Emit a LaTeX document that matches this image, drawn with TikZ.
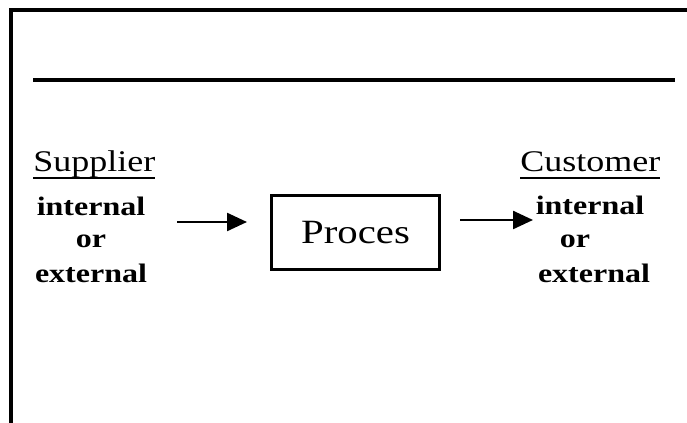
\documentclass[tikz,border=0pt]{standalone}
\usepackage{fontspec}
\setmainfont{Liberation Serif}[FakeStretch=1.2]
\usetikzlibrary{arrows.meta}
\newcommand\ulword[1]{\setbox0\hbox{#1}\rlap{\rule[-5pt]{\wd0}{1.4pt}}\box0}
\tikzset{
  rule/.style={line width=3pt},
  head/.style={font=\fontsize{22.5}{27}\selectfont, inner sep=0pt, anchor=base west},
  sub/.style={font=\fontsize{20}{24}\selectfont\bfseries, inner sep=0pt, anchor=base},
  arr/.style={line width=1.8pt, -{Triangle[length=15pt,width=13.5pt]}},
  procbox/.style={draw, line width=2.2pt, minimum width=126pt, minimum height=56pt, inner sep=0pt,
                  font=\fontsize{25.5}{30}\selectfont}
}
\begin{document}
\begin{tikzpicture}[x=0.75pt,y=-0.75pt]
\useasboundingbox (0,0) rectangle (687,423);
\coordinate (bl) at (10.5,423);
\coordinate (tl) at (10.5,10);
\coordinate (tr) at (687,10);
\draw[rule, line join=miter] (bl) -- (tl) -- (tr);
\coordinate (ml) at (33,80);
\coordinate (mr) at (675,80);
\draw[line width=3.4pt] (ml) -- (mr);

\node[head] (sup) at (33,172) {\ulword{Supplier}};
\node[sub] (sint) at (91,216) {internal};
\node[sub] (sor) at (91,248) {or};
\node[sub] (sext) at (91,283) {external};

\node[procbox] (proc) at (355.5,232.5) {Proces};

\node[head] (cus) at (520,172) {\ulword{Customer}};
\node[sub] (cint) at (590,215) {internal};
\node[sub] (cor) at (575,248) {or};
\node[sub] (cext) at (594,283) {external};

\coordinate (a1s) at (177,222);
\coordinate (a1e) at (247,222);
\coordinate (a2s) at (460,220);
\coordinate (a2e) at (533,220);
\draw[arr] (a1s) -- (a1e);
\draw[arr] (a2s) -- (a2e);
\end{tikzpicture}
\end{document}
